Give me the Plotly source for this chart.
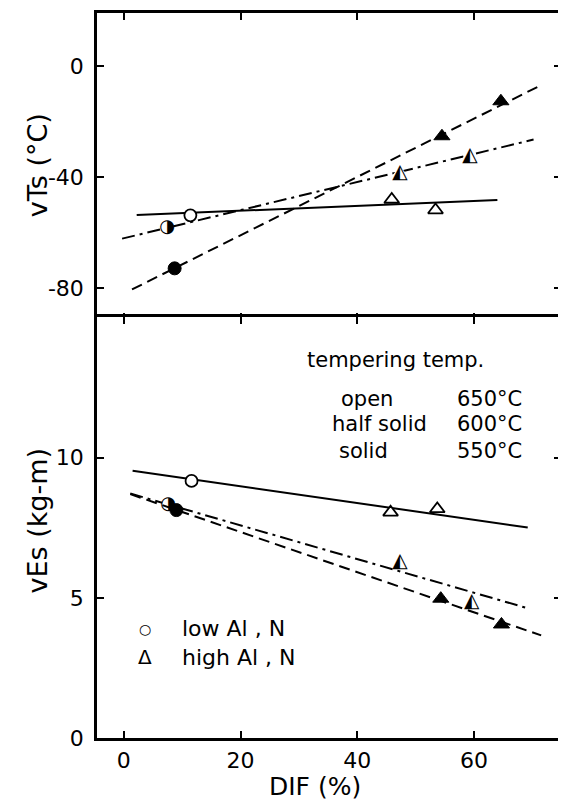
import plotly.graph_objects as go
from plotly.subplots import make_subplots

# ---------------- data ----------------
x_ticks = [0, 20, 40, 60]
vts_ticks = [0, -40, -80]
vts_ticktext = ["0", "-40", "-80"]
ves_ticks = [0, 5, 10]
ves_ticktext = ["0", "5", "10"]

# vTs (°C) — open = 650°C, half solid = 600°C, solid = 550°C
vts_open_low_x = [11.4]
vts_open_low_y = [-53.7]
vts_open_high_x = [45.9, 53.4]
vts_open_high_y = [-48.0, -51.8]
vts_half_low_x = [7.4]
vts_half_low_y = [-58.2]
vts_half_high_x = [47.3, 59.3]
vts_half_high_y = [-38.4, -32.2]
vts_solid_low_x = [8.7]
vts_solid_low_y = [-72.8]
vts_solid_high_x = [54.5, 64.6]
vts_solid_high_y = [-25.2, -12.6]

vts_open_fit_x = [2.2, 64.0]
vts_open_fit_y = [-53.6, -48.2]
vts_half_fit_x = [-0.3, 70.2]
vts_half_fit_y = [-62.1, -26.4]
vts_solid_fit_x = [1.4, 71.1]
vts_solid_fit_y = [-80.4, -7.2]

# vEs (kg-m)
ves_open_low_x = [11.6]
ves_open_low_y = [9.17]
ves_open_high_x = [45.7, 53.7]
ves_open_high_y = [8.05, 8.17]
ves_half_low_x = [7.6]
ves_half_low_y = [8.32]
ves_half_high_x = [47.3, 59.6]
ves_half_high_y = [6.27, 4.85]
ves_solid_low_x = [9.0]
ves_solid_low_y = [8.13]
ves_solid_high_x = [54.3, 64.7]
ves_solid_high_y = [4.97, 4.05]

ves_open_fit_x = [1.5, 69.2]
ves_open_fit_y = [9.53, 7.51]
ves_half_fit_x = [1.1, 69.5]
ves_half_fit_y = [8.72, 4.61]
ves_solid_fit_x = [1.1, 71.5]
ves_solid_fit_y = [8.70, 3.66]

x_range = [-4.6, 74.9]
vts_range = [-91.4, 19.2]
ves_range = [0, 15]

# ---------------- figure ----------------
FONT = "DejaVu Sans"
fig = make_subplots(rows=2, cols=1, shared_xaxes=True, vertical_spacing=0,
                    row_heights=[0.4217, 0.5783])

DASH = "11px,6px"
DASHDOT = "13px,5px,3px,5px"


def add_group(row, fx, fy, dash, lx, ly, hx, hy, kind):
    fig.add_trace(go.Scatter(x=fx, y=fy, mode="lines", showlegend=False,
                             line=dict(color="black", width=2, dash=dash),
                             hoverinfo="skip"), row=row, col=1)
    if kind == "open":
        fig.add_trace(go.Scatter(x=lx, y=ly, mode="markers", showlegend=False,
                                 marker=dict(symbol="circle", size=12, color="white",
                                             line=dict(color="black", width=1.8))),
                      row=row, col=1)
        fig.add_trace(go.Scatter(x=hx, y=hy, mode="markers", showlegend=False,
                                 marker=dict(symbol="triangle-up", size=13, color="white",
                                             line=dict(color="black", width=1.8))),
                      row=row, col=1)
    elif kind == "solid":
        fig.add_trace(go.Scatter(x=lx, y=ly, mode="markers", showlegend=False,
                                 marker=dict(symbol="circle", size=13, color="black",
                                             line=dict(color="black", width=1))),
                      row=row, col=1)
        fig.add_trace(go.Scatter(x=hx, y=hy, mode="markers", showlegend=False,
                                 marker=dict(symbol="triangle-up", size=14, color="black",
                                             line=dict(color="black", width=1))),
                      row=row, col=1)
    else:  # half solid: white underlay + half-filled glyph
        fig.add_trace(go.Scatter(x=lx, y=ly, mode="markers", showlegend=False,
                                 marker=dict(symbol="circle", size=13, color="white",
                                             line=dict(width=0))),
                      row=row, col=1)
        fig.add_trace(go.Scatter(x=lx, y=ly, mode="text", text=["◑"] * len(lx),
                                 textposition="middle center", showlegend=False,
                                 textfont=dict(family=FONT, size=18, color="black")),
                      row=row, col=1)
        fig.add_trace(go.Scatter(x=hx, y=hy, mode="markers", showlegend=False,
                                 marker=dict(symbol="triangle-up", size=14, color="white",
                                             line=dict(width=0))),
                      row=row, col=1)
        fig.add_trace(go.Scatter(x=hx, y=hy, mode="text", text=["◭"] * len(hx),
                                 textposition="middle center", showlegend=False,
                                 textfont=dict(family=FONT, size=20, color="black")),
                      row=row, col=1)


add_group(1, vts_open_fit_x, vts_open_fit_y, "solid",
          vts_open_low_x, vts_open_low_y, vts_open_high_x, vts_open_high_y, "open")
add_group(1, vts_half_fit_x, vts_half_fit_y, DASHDOT,
          vts_half_low_x, vts_half_low_y, vts_half_high_x, vts_half_high_y, "half")
add_group(1, vts_solid_fit_x, vts_solid_fit_y, DASH,
          vts_solid_low_x, vts_solid_low_y, vts_solid_high_x, vts_solid_high_y, "solid")

add_group(2, ves_open_fit_x, ves_open_fit_y, "solid",
          ves_open_low_x, ves_open_low_y, ves_open_high_x, ves_open_high_y, "open")
add_group(2, ves_half_fit_x, ves_half_fit_y, DASHDOT,
          ves_half_low_x, ves_half_low_y, ves_half_high_x, ves_half_high_y, "half")
add_group(2, ves_solid_fit_x, ves_solid_fit_y, DASH,
          ves_solid_low_x, ves_solid_low_y, ves_solid_high_x, ves_solid_high_y, "solid")

LW = 2.5
axis_common = dict(showline=True, linecolor="black", linewidth=LW, mirror="ticks",
                   ticks="inside", ticklen=7, tickwidth=2, tickcolor="black",
                   showgrid=False, zeroline=False,
                   tickfont=dict(family=FONT, size=22, color="black"))

# page body has an 8px default margin: the figure is sized to fit inside it
W, H = 558, 799
M_L, M_R, M_T, M_B = 89, 2, 2, 69
plot_h = H - M_T - M_B
split = 0.5783
eps = (LW / 2) / plot_h

fig.update_xaxes(range=x_range, tickvals=x_ticks, **axis_common)
fig.update_xaxes(showticklabels=False, row=1, col=1)
fig.update_xaxes(showticklabels=True, ticklabelstandoff=1, row=2, col=1)
fig.update_yaxes(range=vts_range, tickvals=vts_ticks, ticktext=vts_ticktext,
                 ticklabelstandoff=6, domain=[split - eps, 1], row=1, col=1, **axis_common)
fig.update_yaxes(range=ves_range, tickvals=ves_ticks, ticktext=ves_ticktext,
                 ticklabelstandoff=6, domain=[0, split + eps], row=2, col=1, **axis_common)

ann_font = dict(family=FONT, size=21, color="black")
leg_font = dict(family=FONT, size=22, color="black")
title_font = dict(family=FONT, size=27, color="black")
annotations = [
    dict(text="vTs (°C)", xref="paper", yref="paper", x=0, y=0.79, xshift=-60,
         textangle=-90, showarrow=False, font=title_font, xanchor="center", yanchor="middle"),
    dict(text="vEs (kg-m)", xref="paper", yref="paper", x=0, y=0.300, xshift=-60,
         textangle=-90, showarrow=False, font=title_font, xanchor="center", yanchor="middle"),
    dict(text="DIF (%)", xref="paper", yref="paper", x=0.47, y=0, yshift=-48,
         showarrow=False, font=dict(family=FONT, size=25, color="black"),
         xanchor="center", yanchor="middle"),
    dict(text="tempering temp.", xref="x2", yref="y2", x=31.0, y=13.5, showarrow=False,
         font=ann_font, xanchor="left", yanchor="middle"),
    dict(text="open", xref="x2", yref="y2", x=41.6, y=12.1, showarrow=False,
         font=ann_font, xanchor="center", yanchor="middle"),
    dict(text="half solid", xref="x2", yref="y2", x=43.8, y=11.2, showarrow=False,
         font=ann_font, xanchor="center", yanchor="middle"),
    dict(text="solid", xref="x2", yref="y2", x=41.1, y=10.25, showarrow=False,
         font=ann_font, xanchor="center", yanchor="middle"),
    dict(text="650°C", xref="x2", yref="y2", x=68.6, y=12.1, showarrow=False,
         font=ann_font, xanchor="right", yanchor="middle"),
    dict(text="600°C", xref="x2", yref="y2", x=68.6, y=11.2, showarrow=False,
         font=ann_font, xanchor="right", yanchor="middle"),
    dict(text="550°C", xref="x2", yref="y2", x=68.6, y=10.25, showarrow=False,
         font=ann_font, xanchor="right", yanchor="middle"),
    dict(text="○", xref="x2", yref="y2", x=3.6, y=3.9, showarrow=False,
         font=dict(family=FONT, size=14, color="black"), xanchor="center", yanchor="middle"),
    dict(text="low Al , N", xref="x2", yref="y2", x=9.6, y=3.9, showarrow=False,
         font=leg_font, xanchor="left", yanchor="middle"),
    dict(text="Δ", xref="x2", yref="y2", x=3.6, y=2.88, showarrow=False,
         font=dict(family=FONT, size=20, color="black"), xanchor="center", yanchor="middle"),
    dict(text="high Al , N", xref="x2", yref="y2", x=9.6, y=2.88, showarrow=False,
         font=leg_font, xanchor="left", yanchor="middle"),
]

fig.update_layout(width=W, height=H, margin=dict(l=M_L, r=M_R, t=M_T, b=M_B),
                  paper_bgcolor="white", plot_bgcolor="white", showlegend=False,
                  annotations=annotations, font=dict(family=FONT, color="black"))

fig.write_html("out.html")
